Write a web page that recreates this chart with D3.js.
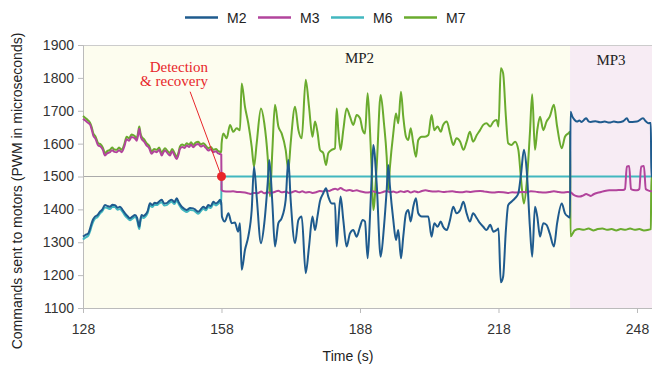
<!DOCTYPE html>
<html><head><meta charset="utf-8">
<script src="https://cdn.jsdelivr.net/npm/d3@7/dist/d3.min.js"></script>
<style>body{margin:0;background:#fff}svg{display:block}</style>
</head><body>
<svg id="c" width="652" height="366"></svg>
<script>
// ---- data ----
const seriesNames = ["M2", "M3", "M6", "M7"];
const seriesColors = ["#1f5b8e", "#b2449c", "#42b7bf", "#6aab2e"];
const xTicks = [128, 158, 188, 218, 248];
const yTicks = [1100, 1200, 1300, 1400, 1500, 1600, 1700, 1800, 1900];
const phases = [{name: "MP2", from: 128, to: 233.5}, {name: "MP3", from: 233.5, to: 251.25}];

const m2 = [[128.0,1317],[128.5,1322],[129.15,1327],[129.5,1340],[129.88,1358],[130.2,1370],[130.6,1378],[131.1,1382],[131.68,1393],[132.2,1400],[132.76,1413],[133.3,1410],[133.85,1408],[134.4,1414],[134.93,1413],[135.5,1405],[136.01,1408],[136.6,1398],[137.1,1388],[137.6,1380],[138.18,1373],[138.7,1378],[139.26,1383],[139.7,1375],[140.19,1347],[140.45,1370],[140.71,1383],[141.1,1380],[141.43,1383],[142.0,1395],[142.51,1419],[143.0,1413],[143.5,1420],[143.96,1419],[144.5,1424],[145.05,1429],[145.6,1418],[146.13,1419],[146.7,1426],[147.21,1429],[147.8,1422],[148.29,1434],[148.8,1420],[149.38,1408],[149.9,1402],[150.46,1398],[151.2,1404],[151.89,1403],[152.4,1398],[152.97,1393],[153.5,1400],[154.06,1408],[154.6,1403],[155.14,1413],[155.7,1410],[156.22,1423],[156.8,1418],[157.3,1423],[157.67,1429],[157.95,1420],
[158.1,1378],[158.7,1363],[159.5,1388],[160.2,1358],[160.9,1360],[161.6,1332],[162.0,1358],[162.37,1216],[163.09,1277],[163.8,1317],[164.54,1398],[165.04,1530],[165.62,1439],[166.55,1297],[167.27,1358],[168.0,1479],[168.35,1550],[169.02,1418],[169.58,1287],[170.32,1358],[171.03,1373],[171.9,1429],[172.48,1550],[172.98,1429],[173.93,1297],[174.66,1368],[175.37,1378],[176.24,1206],[176.96,1287],[177.7,1378],[178.26,1337],[178.78,1378],[179.33,1425],[180.05,1449],[180.63,1464],[181.13,1439],[181.87,1418],[182.58,1418],[182.95,1287],[183.3,1358],[183.8,1439],[184.38,1368],[185.1,1287],[185.83,1327],[186.54,1337],[187.28,1317],[188.0,1347],[188.58,1368],[189.08,1363],[189.66,1251],[190.16,1378],[190.53,1499],[190.88,1596],[191.61,1479],[192.48,1256],[193.19,1347],[193.78,1459],[194.12,1535],[194.49,1469],[195.21,1368],[195.79,1307],[196.29,1337],[196.88,1251],[197.37,1317],[197.96,1388],[198.46,1398],[198.98,1363],[199.54,1408],[200.12,1434],[200.62,1388],[201.36,1378],[202.07,1378],[202.8,1378],[203.5,1317],[204.1,1358],[204.8,1347],[205.5,1363],[206.0,1347],[206.8,1337],[207.5,1368],[208.2,1408],[208.9,1388],[209.7,1398],[210.4,1423],[211.1,1388],[211.8,1363],[212.5,1388],[213.3,1373],[214.0,1358],[214.7,1347],[215.4,1337],[216.2,1353],[216.9,1332],[217.6,1337],[218.0,1342],[218.5,1178],[219.0,1195],[219.6,1337],[220.1,1413],[220.8,1423],[221.6,1434],[222.3,1449],[222.9,1510],[223.5,1581],[224.1,1520],[224.8,1347],[225.3,1256],[225.9,1408],[226.4,1378],[227.0,1317],[227.7,1358],[228.4,1353],[229.1,1327],[230.0,1287],[230.7,1358],[231.7,1418],[232.4,1388],[233.1,1378],[233.5,1375],
[233.6,1697],[234.0,1682],[234.5,1672],[235.0,1667],[235.5,1670],[236.0,1666],[236.5,1672],[237.0,1677],[237.5,1668],[238.0,1666],[239.0,1668],[240.0,1665],[241.0,1667],[242.0,1664],[243.0,1667],[244.0,1665],[245.0,1668],[245.8,1677],[246.3,1666],[247.0,1666],[248.0,1667],[249.3,1677],[249.9,1668],[250.5,1662],[251.0,1663],[251.1,1500],[251.25,1500]];

const m3 = [[128.0,1676],[128.5,1670],[129.0,1664],[129.52,1658],[129.9,1642],[130.23,1624],[130.7,1615],[131.31,1594],[131.8,1591],[132.3,1581],[132.76,1564],[133.3,1571],[133.85,1574],[134.3,1580],[134.8,1575],[135.3,1574],[135.8,1580],[136.38,1574],[136.9,1589],[137.46,1613],[138.0,1609],[138.5,1620],[138.9,1619],[139.3,1615],[139.63,1609],[139.95,1628],[140.19,1645],[140.45,1625],[140.71,1614],[141.2,1607],[141.8,1594],[142.3,1587],[142.88,1569],[143.4,1577],[143.96,1574],[144.5,1581],[145.05,1564],[145.4,1573],[145.76,1579],[146.3,1571],[146.84,1564],[147.3,1577],[147.8,1565],[148.29,1553],[148.7,1567],[149.0,1584],[149.5,1590],[150.0,1587],[150.46,1594],[151.0,1590],[151.4,1597],[151.89,1589],[152.4,1596],[152.97,1599],[153.5,1591],[154.06,1594],[154.6,1587],[155.14,1579],[155.7,1583],[156.22,1574],[156.8,1577],[157.2,1571],[157.52,1569],[157.95,1567],
[158.02,1459],[158.5,1455],[159.5,1454],[160.5,1455],[161.5,1453],[162.5,1452],[163.5,1450],[164.3,1447],[165.0,1450],[165.8,1449],[166.6,1454],[167.3,1449],[168.0,1452],[168.6,1450],[169.5,1453],[170.3,1457],[171.0,1452],[172.0,1454],[172.6,1450],[173.3,1452],[174.0,1456],[174.8,1452],[175.5,1455],[176.2,1451],[177.0,1453],[177.7,1450],[178.5,1452],[179.3,1456],[180.0,1454],[180.7,1458],[181.3,1456],[182.0,1460],[182.6,1463],[183.2,1460],[183.8,1465],[184.4,1460],[185.1,1457],[185.8,1459],[186.5,1456],[187.3,1458],[188.0,1455],[188.7,1453],[189.4,1451],[190.1,1452],[190.8,1455],[191.5,1452],[192.2,1450],[193.0,1453],[193.8,1456],[194.5,1452],[195.2,1454],[196.0,1451],[196.8,1455],[197.5,1453],[198.3,1456],[199.0,1451],[199.8,1455],[200.6,1452],[201.4,1456],[202.2,1458],[203.0,1456],[204.0,1454],[205.0,1455],[206.0,1453],[207.0,1454],[208.0,1455],[209.0,1453],[210.0,1452],[211.0,1454],[212.0,1453],[213.0,1455],[214.0,1456],[215.0,1454],[216.0,1452],[217.0,1451],[218.0,1453],[219.0,1452],[220.0,1450],[221.0,1452],[222.0,1451],[223.0,1453],[224.0,1452],[225.0,1455],[226.0,1454],[227.0,1452],[228.0,1451],[229.0,1453],[230.0,1455],[231.0,1453],[232.0,1451],[233.0,1453],[233.6,1452],[234.2,1445],[235.0,1440],[235.6,1439],[236.3,1442],[237.0,1447],[237.5,1444],[238.0,1441],[238.6,1446],[239.3,1450],[240.0,1452],[241.0,1456],[242.0,1458],[243.0,1458],[244.0,1459],[245.0,1459],[245.4,1462],[245.8,1530],[246.3,1532],[246.7,1462],[247.2,1459],[248.0,1458],[248.5,1462],[248.9,1530],[249.5,1532],[249.9,1462],[250.4,1458],[251.1,1455],[251.25,1455]];

const m6 = [[128.0,1308],[128.5,1314],[129.15,1320],[129.5,1332],[129.88,1350],[130.2,1362],[130.6,1372],[131.1,1376],[131.68,1387],[132.2,1395],[132.76,1406],[133.3,1404],[133.85,1401],[134.4,1408],[134.93,1407],[135.5,1399],[136.01,1401],[136.6,1392],[137.1,1381],[137.6,1374],[138.18,1367],[138.7,1372],[139.26,1377],[139.7,1368],[140.19,1340],[140.45,1364],[140.71,1377],[141.1,1374],[141.43,1377],[142.0,1389],[142.51,1412],[143.0,1407],[143.5,1414],[143.96,1413],[144.5,1418],[145.05,1422],[145.6,1412],[146.13,1413],[146.7,1420],[147.21,1423],[147.8,1416],[148.29,1427],[148.8,1414],[149.38,1402],[149.9,1396],[150.46,1392],[151.2,1398],[151.89,1397],[152.4,1392],[152.97,1387],[153.5,1394],[154.06,1402],[154.6,1397],[155.14,1407],[155.7,1404],[156.22,1417],[156.8,1412],[157.3,1417],[157.67,1423],[157.95,1415],[158.0,1500],[251.25,1500]];

const m7 = [[128.0,1684],[128.5,1678],[129.0,1672],[129.52,1664],[129.9,1650],[130.23,1631],[130.7,1622],[131.31,1601],[131.8,1598],[132.3,1588],[132.76,1571],[133.3,1578],[133.85,1581],[134.3,1588],[134.8,1582],[135.3,1581],[135.8,1588],[136.38,1581],[136.9,1596],[137.46,1621],[138.0,1616],[138.5,1628],[138.9,1626],[139.3,1622],[139.63,1616],[139.95,1635],[140.19,1652],[140.45,1632],[140.71,1621],[141.2,1614],[141.8,1601],[142.3,1594],[142.88,1576],[143.4,1584],[143.96,1581],[144.5,1588],[145.05,1571],[145.4,1580],[145.76,1586],[146.3,1578],[146.84,1571],[147.3,1584],[147.8,1572],[148.29,1560],[148.7,1574],[149.0,1591],[149.5,1597],[150.0,1594],[150.46,1601],[151.0,1597],[151.4,1604],[151.89,1596],[152.4,1603],[152.97,1606],[153.5,1598],[154.06,1601],[154.6,1594],[155.14,1586],[155.7,1590],[156.22,1581],[156.8,1584],[157.2,1578],[157.52,1576],[157.95,1574],
[158.02,1600],[158.39,1631],[159.12,1616],[159.84,1657],[160.55,1636],[161.29,1647],[162.0,1641],[162.37,1783],[163.09,1712],[163.8,1662],[164.54,1591],[165.04,1530],[165.62,1601],[166.55,1707],[167.27,1662],[168.0,1560],[168.5,1439],[169.02,1581],[169.58,1718],[170.32,1652],[171.03,1631],[171.9,1581],[172.48,1520],[172.98,1601],[173.93,1712],[174.66,1641],[175.37,1616],[176.24,1794],[176.96,1712],[177.7,1621],[178.26,1667],[178.78,1636],[179.33,1581],[180.05,1571],[180.63,1535],[181.13,1571],[181.87,1581],[182.58,1586],[182.95,1707],[183.3,1641],[183.8,1581],[184.38,1641],[185.1,1707],[185.83,1682],[186.54,1657],[187.28,1687],[188.0,1677],[188.58,1641],[189.08,1631],[189.66,1753],[190.16,1641],[190.53,1520],[190.88,1398],[191.61,1530],[192.48,1748],[193.19,1662],[193.78,1560],[194.12,1459],[194.49,1530],[195.21,1631],[195.79,1692],[196.29,1662],[196.88,1758],[197.37,1682],[197.96,1621],[198.46,1611],[198.98,1647],[199.54,1601],[200.12,1560],[200.62,1611],[201.36,1621],[202.07,1621],[202.8,1626],[203.5,1687],[204.1,1641],[204.8,1652],[205.5,1636],[206.0,1657],[206.8,1667],[207.5,1631],[208.2,1596],[208.9,1616],[209.7,1606],[210.4,1581],[211.1,1606],[211.8,1636],[212.5,1606],[213.3,1626],[214.0,1641],[214.7,1657],[215.4,1662],[216.2,1652],[216.9,1667],[217.6,1672],[218.0,1652],[218.5,1829],[219.0,1814],[219.6,1682],[220.1,1601],[220.8,1596],[221.6,1606],[222.3,1581],[222.9,1489],[223.5,1418],[224.1,1479],[224.8,1631],[225.3,1750],[225.9,1581],[226.4,1641],[227.0,1682],[227.7,1641],[228.4,1667],[229.1,1682],[230.0,1718],[230.7,1652],[231.7,1586],[232.4,1621],[233.1,1631],[233.5,1636],
[233.6,1318],[234.0,1325],[234.5,1336],[235.5,1340],[236.5,1338],[237.5,1342],[238.5,1336],[239.5,1340],[240.5,1342],[241.5,1338],[242.5,1340],[243.5,1336],[244.5,1340],[245.5,1338],[246.5,1342],[247.5,1338],[248.5,1340],[249.5,1336],[250.5,1338],[251.0,1340],[251.1,1500],[251.25,1500]];

const seriesData = [m2, m3, m6, m7];
const annotation = {lines: ["Detection", "& recovery"], from: [151.2, 1758], at: [158, 1500]};

// ---- chart ----
const svg = d3.select("#c");
const x = d3.scaleLinear().domain([128, 251.25]).range([83, 652]);
const y = d3.scaleLinear().domain([1100, 1900]).range([308, 45]);

// phase backgrounds
const phaseFill = {MP2: "#fdfdef", MP3: "#f7ecf4"};
svg.selectAll("rect.phase").data(phases).join("rect")
  .attr("x", d => x(d.from)).attr("y", y(1900))
  .attr("width", d => x(d.to) - x(d.from)).attr("height", y(1100) - y(1900))
  .attr("fill", d => phaseFill[d.name]);
svg.selectAll("text.phase").data(phases).join("text")
  .attr("x", d => (x(d.from) + x(d.to)) / 2 + (d.name === "MP2" ? 33 : 0))
  .attr("y", d => d.name === "MP2" ? 63 : 65)
  .attr("text-anchor", "middle")
  .attr("font-family", "Liberation Serif, serif").attr("font-size", 15).attr("fill", "#222")
  .text(d => d.name);

// top border & 1500 line
svg.append("line").attr("x1", x(128)).attr("x2", x(251.25)).attr("y1", y(1900) + 0.5).attr("y2", y(1900) + 0.5)
  .attr("stroke", "#ccc").attr("stroke-width", 1);
svg.append("line").attr("x1", x(128)).attr("x2", x(251.25)).attr("y1", y(1500)).attr("y2", y(1500))
  .attr("stroke", "#aaa").attr("stroke-width", 1);

// axes
const yAxis = svg.append("g").attr("transform", `translate(${x(128)},0)`)
  .call(d3.axisLeft(y).tickValues(yTicks).tickSize(5).tickPadding(4).tickFormat(d3.format("d")));
const xAxis = svg.append("g").attr("transform", `translate(0,${y(1100)})`)
  .call(d3.axisBottom(x).tickValues(xTicks).tickSize(5).tickPadding(11).tickFormat(d3.format("d")));
[yAxis, xAxis].forEach(g => {
  g.select(".domain").attr("stroke", "#bbb");
  g.selectAll(".tick line").attr("stroke", "#bbb");
  g.selectAll(".tick text").attr("font-family", "Liberation Sans, Arial, sans-serif").attr("font-size", 14).attr("fill", "#333");
});

// axis titles
svg.append("text").attr("x", 348).attr("y", 361).attr("text-anchor", "middle")
  .attr("font-family", "Liberation Sans, Arial, sans-serif").attr("font-size", 14).attr("fill", "#222")
  .text("Time (s)");
svg.append("text").attr("transform", "translate(22,191) rotate(-90)").attr("text-anchor", "middle")
  .attr("font-family", "Liberation Sans, Arial, sans-serif").attr("font-size", 14).attr("fill", "#222")
  .text("Commands sent to motors (PWM in microseconds)");

// series
const line = d3.line().curve(d3.curveMonotoneX).x(d => x(d[0])).y(d => y(d[1]));
const order = [2, 3, 1, 0];
svg.append("g").selectAll("path").data(order).join("path")
  .attr("d", i => line(seriesData[i]))
  .attr("fill", "none").attr("stroke", i => seriesColors[i])
  .attr("stroke-width", 2).attr("stroke-linejoin", "round");

// annotation
svg.append("line")
  .attr("x1", x(annotation.from[0])).attr("y1", y(annotation.from[1]))
  .attr("x2", x(annotation.at[0])).attr("y2", y(annotation.at[1]))
  .attr("stroke", "#e8262a").attr("stroke-width", 1);
svg.append("circle").attr("cx", x(annotation.at[0])).attr("cy", y(annotation.at[1])).attr("r", 4.5)
  .attr("fill", "#e8262a");
svg.selectAll("text.ann").data(annotation.lines).join("text")
  .attr("x", 208).attr("y", (d, i) => 71.5 + i * 14.5).attr("text-anchor", "end")
  .attr("font-family", "Liberation Serif, serif").attr("font-size", 15).attr("fill", "#e8262a")
  .text(d => d);

// legend
const lg = svg.append("g").selectAll("g").data(seriesNames).join("g")
  .attr("transform", (d, i) => `translate(${185 + i * 73},17.5)`);
lg.append("line").attr("x1", 0).attr("x2", 33).attr("y1", 0).attr("y2", 0)
  .attr("stroke", (d, i) => seriesColors[i]).attr("stroke-width", 2.5);
lg.append("text").attr("x", 42).attr("y", 5).attr("font-family", "Liberation Sans, Arial, sans-serif")
  .attr("font-size", 14).attr("fill", "#222").text(d => d);
</script>
</body></html>
